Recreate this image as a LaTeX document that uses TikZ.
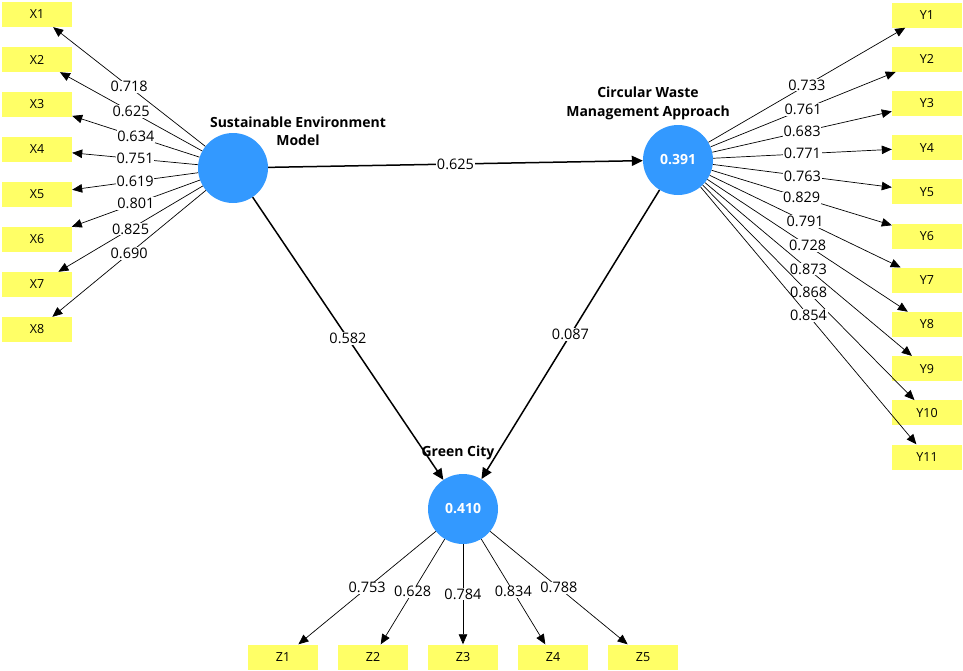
\documentclass[tikz,border=0pt]{standalone}
\usepackage{fontspec}
\setmainfont{Open Sans}
\usetikzlibrary{arrows.meta}
\definecolor{lvblue}{HTML}{3399FF}
\definecolor{boxy}{HTML}{FFFF66}
\begin{document}
\begin{tikzpicture}[x=1pt,y=-1pt,
 ind/.style={fill=boxy, minimum width=70pt, minimum height=25pt, inner sep=0pt, font=\fontsize{12.5}{14}\selectfont},
 lv/.style={circle, fill=lvblue, minimum size=70pt, inner sep=0pt, text=white, font=\bfseries\fontsize{14}{16}\selectfont},
 load/.style={-{Triangle[length=10pt,width=8.5pt]}, line width=0.7pt},
 strpath/.style={-{Triangle[length=11pt,width=10pt]}, line width=1.5pt},
 lab/.style={fill=white, inner sep=0.8pt, font=\fontsize{14.5}{16}\selectfont},
 ttl/.style={font=\bfseries\fontsize{14}{18.5}\selectfont, align=center}]
\useasboundingbox (0,0) rectangle (963,670);
\node[lv] (sem) at (233,168) {};
\node[lv] (cw) at (678,160) {0.391};
\node[lv] (gc) at (463,509) {0.410};
\node[ttl] (semt) at (298,131) {Sustainable Environment\\Model};
\node[ttl] (cwt) at (648,103.5) {Circular Waste\\Management Approach};
\node[ttl] (gct) at (458,453) {Green City};
\foreach \v [count=\i] in {0.718,0.625,0.634,0.751,0.619,0.801,0.825,0.690}{
  \node[ind] (x\i) at (37,{14.5+45*(\i-1)}) {X\i};
  \draw[load] (sem) -- node[lab]{\v} (x\i);
}
\foreach \v [count=\i] in {0.733,0.761,0.683,0.771,0.763,0.829,0.791,0.728,0.873,0.868,0.854}{
  \node[ind] (y\i) at (927,{15+44.2*(\i-1)}) {Y\i};
  \draw[load] (cw) -- node[lab]{\v} (y\i);
}
\foreach \v [count=\i] in {0.753,0.628,0.784,0.834,0.788}{
  \node[ind] (z\i) at ({283+90*(\i-1)},657) {Z\i};
  \draw[load] (gc) -- node[lab]{\v} (z\i);
}
\draw[strpath] (sem) -- node[lab]{0.625} (cw);
\draw[strpath] (sem) -- node[lab]{0.582} (gc);
\draw[strpath] (cw) -- node[lab]{0.087} (gc);
\end{tikzpicture}
\end{document}
